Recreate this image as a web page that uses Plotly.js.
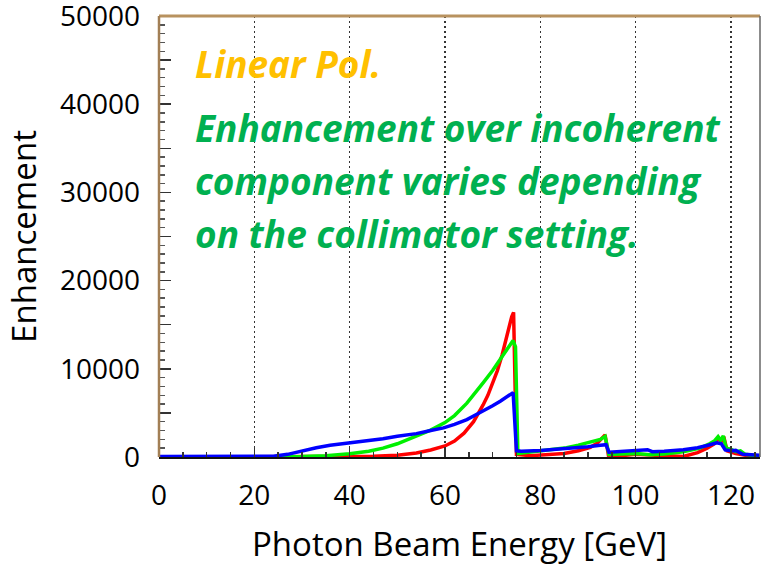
<!DOCTYPE html>
<html>
<head>
<meta charset="utf-8">
<script src="https://cdn.plot.ly/plotly-3.0.1.min.js"></script>
<style>html,body{margin:0;padding:0;background:#fff;}#chart{width:761px;height:567px;}</style>
</head>
<body>
<div id="chart"></div>
<script>
// Red series
const redX = [0,10,20,30,40,45,50,54,57,60,62,64,66,67,68,69,70,71,72,73,74,74.4,75.0,78,82,85,88,90.5,92,93,93.6,94.3,97,100,103,106,110,113,115,116.5,117.5,118,118.5,119.2,121,124,126];
const redY = [0,0,0,0,20,80,200,450,800,1250,1800,2700,4000,4900,5900,7000,8300,9800,11600,13800,15900,16400,300,150,250,400,700,1100,1600,2200,2500,200,150,300,200,100,50,500,1000,1500,2100,1700,2300,700,400,100,50];
// Green series
const greenX = [0,25,30,35,40,44,47,50,54,57,60,62,64.6,66,68,70,71.6,73,74.3,74.8,75.3,78,82,85.5,88,90,92.6,93.6,94.4,97,100,103,106,110,113.5,115.5,116.5,117.3,117.8,118.4,119,120,121,122,123,126];
const greenY = [0,0,50,150,370,650,1000,1500,2350,3050,3900,4700,6100,7000,8400,9800,11000,12200,13200,12500,400,550,800,1050,1350,1650,2000,2350,300,350,400,250,350,600,1000,1500,1800,2300,1900,2400,1000,900,600,700,300,100];
// Blue series
const blueX = [0,10,20,24,27,29.6,33,35.9,40,44,47,50,54,57,59.7,62,64.6,66,68,70,71.6,73,74.3,75,76,80,85,90,92.6,93.8,94.4,97,100,102.5,103.5,106,110,113,115,117,118,118.8,120,121,122.5,124,126];
const blueY = [50,50,50,80,300,640,1050,1330,1590,1850,2080,2350,2650,3000,3300,3700,4240,4650,5180,5800,6320,6800,7300,700,640,750,900,1150,1320,1400,550,650,830,830,600,650,830,1050,1300,1600,1500,800,700,750,300,250,200];

const yTickVals = [0,5000,10000,15000,20000,25000,30000,35000,40000,45000,50000];
const yTickText = ['0','','10000','','20000','','30000','','40000','','50000'];
const xTickVals = [0,20,40,60,80,100,120];
const xTickText = ['0','20','40','60','80','100','120'];

const noteTitle = 'Linear Pol.';
const noteLines = ['Enhancement over incoherent','component varies depending','on the collimator setting.'];

const L = 159, R = 760, T = 16, B = 457.3;
const px = x => (x - L) / (R - L);
const py = y => (B - y) / (B - T);

const traces = [
  {x: redX, y: redY, type: 'scatter', mode: 'lines', line: {color: '#ff0000', width: 3.5}, hoverinfo: 'skip'},
  {x: greenX, y: greenY, type: 'scatter', mode: 'lines', line: {color: '#00f000', width: 3.5}, hoverinfo: 'skip'},
  {x: blueX, y: blueY, type: 'scatter', mode: 'lines', line: {color: '#0000ff', width: 3.5}, hoverinfo: 'skip'}
];

const FONT = '"Open Sans", Lato, sans-serif';
const noteFont = {family: FONT, size: 37, weight: 'bold', style: 'italic'};
const annotations = [
  {text: '<b><i>' + noteTitle + '</i></b>', xref: 'paper', yref: 'paper', x: px(193), y: py(64), xanchor: 'left', yanchor: 'middle', showarrow: false, font: Object.assign({}, noteFont, {color: '#ffc000'})}
];
const lineCenters = [128, 181, 234];
noteLines.forEach((t, i) => {
  annotations.push({text: '<b><i>' + t + '</i></b>', xref: 'paper', yref: 'paper', x: px(193), y: py(lineCenters[i]), xanchor: 'left', yanchor: 'middle', showarrow: false, font: Object.assign({}, noteFont, {color: '#00b050'})});
});

const layout = {
  width: 761, height: 567,
  margin: {l: L, r: 761 - R, t: T, b: 567 - B},
  paper_bgcolor: '#ffffff', plot_bgcolor: '#ffffff',
  showlegend: false,
  font: {family: FONT, color: '#000'},
  xaxis: {
    range: [0, 126.1], tickmode: 'array', tickvals: xTickVals, ticktext: xTickText,
    ticks: 'inside', ticklen: 10, tickcolor: '#333', tickwidth: 1.5,
    minor: {dtick: 5, tick0: 0, ticks: 'inside', ticklen: 5, tickcolor: '#333', tickwidth: 1.5, showgrid: false},
    showgrid: true, gridcolor: '#333', griddash: '2px,3px', gridwidth: 1.5,
    zeroline: false, showline: true, linecolor: '#111', linewidth: 2,
    tickfont: {size: 28, color: '#000'}, ticklabelstandoff: 12, ticklabeloverflow: 'allow',
    title: {text: 'Photon Beam Energy [GeV]', font: {size: 33, color: '#000'}, standoff: 21}
  },
  yaxis: {
    range: [0, 50000], tickmode: 'array', tickvals: yTickVals, ticktext: yTickText,
    ticks: 'inside', ticklen: 12, tickcolor: '#333', tickwidth: 1.5,
    minor: {dtick: 1000, tick0: 0, ticks: 'inside', ticklen: 6, tickcolor: '#555', tickwidth: 1.5, showgrid: false},
    showgrid: false, zeroline: false, showline: false,
    tickfont: {size: 28, color: '#000'}, ticklabelstandoff: 18, ticklabelshift: -3.5, ticklabeloverflow: 'allow',
    title: {text: 'Enhancement', font: {size: 33, color: '#000'}, standoff: 13}
  },
  shapes: [
    {type: 'line', xref: 'paper', yref: 'paper', x0: 0, x1: 1, y0: 1, y1: 1, line: {color: '#b8925f', width: 3}},
    {type: 'line', xref: 'paper', yref: 'paper', x0: 0, x1: 0, y0: 0, y1: 1, line: {color: '#a27f55', width: 2.5}},
    {type: 'line', xref: 'paper', yref: 'paper', x0: 1, x1: 1, y0: 0, y1: 1, line: {color: '#666', width: 1.5}}
  ],
  annotations: annotations
};

Plotly.newPlot('chart', traces, layout, {staticPlot: true, displayModeBar: false});
</script>
</body>
</html>
